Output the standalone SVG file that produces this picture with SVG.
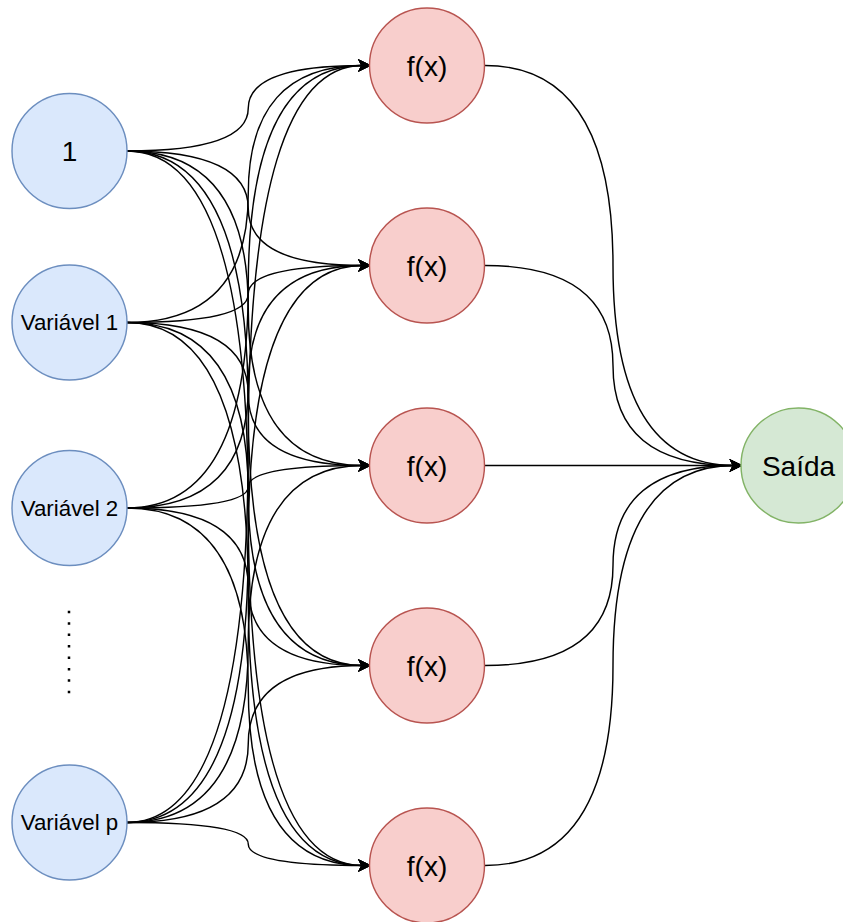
<svg xmlns="http://www.w3.org/2000/svg" width="843" height="922" viewBox="0 0 843 922">
<style>
.in{fill:#dae8fc;stroke:#6c8ebf;stroke-width:1.44}
.fx{fill:#f8cecc;stroke:#b85450;stroke-width:1.44}
.out{fill:#d5e8d4;stroke:#82b366;stroke-width:1.44}
.e{fill:none;stroke:#000;stroke-width:1.44;marker-end:url(#arr)}
text{font-family:"Liberation Sans",Arial,Helvetica,sans-serif;fill:#000;text-anchor:middle}
.big{font-size:28px}
.sm{font-size:22.3px}
</style>
<defs>
<marker id="arr" markerUnits="userSpaceOnUse" markerWidth="14" markerHeight="14" refX="3" refY="0" viewBox="-1 -7 13 14" orient="auto" overflow="visible">
<path d="M10 0 L0 -5 L2.5 0 L0 5 Z" fill="#000" stroke="#000" stroke-width="1.44" stroke-linejoin="miter"/>
</marker>
</defs>
<g id="connectors">
<path class="e" d="M127 151 Q248.25 151 248.25 108.25 Q248.25 65.5 362.5 65.5"/>
<path class="e" d="M127 151 Q248.25 151 248.25 208.25 Q248.25 265.5 362.5 265.5"/>
<path class="e" d="M127 151 Q248.25 151 248.25 308.25 Q248.25 465.5 362.5 465.5"/>
<path class="e" d="M127 151 Q248.25 151 248.25 408.25 Q248.25 665.5 362.5 665.5"/>
<path class="e" d="M127 151 Q248.25 151 248.25 508.25 Q248.25 865.5 362.5 865.5"/>
<path class="e" d="M127 322.5 Q248.25 322.5 248.25 194 Q248.25 65.5 362.5 65.5"/>
<path class="e" d="M127 322.5 Q248.25 322.5 248.25 294 Q248.25 265.5 362.5 265.5"/>
<path class="e" d="M127 322.5 Q248.25 322.5 248.25 394 Q248.25 465.5 362.5 465.5"/>
<path class="e" d="M127 322.5 Q248.25 322.5 248.25 494 Q248.25 665.5 362.5 665.5"/>
<path class="e" d="M127 322.5 Q248.25 322.5 248.25 594 Q248.25 865.5 362.5 865.5"/>
<path class="e" d="M127 508 Q248.25 508 248.25 286.75 Q248.25 65.5 362.5 65.5"/>
<path class="e" d="M127 508 Q248.25 508 248.25 386.75 Q248.25 265.5 362.5 265.5"/>
<path class="e" d="M127 508 Q248.25 508 248.25 486.75 Q248.25 465.5 362.5 465.5"/>
<path class="e" d="M127 508 Q248.25 508 248.25 586.75 Q248.25 665.5 362.5 665.5"/>
<path class="e" d="M127 508 Q248.25 508 248.25 686.75 Q248.25 865.5 362.5 865.5"/>
<path class="e" d="M127 822.5 Q248.25 822.5 248.25 444 Q248.25 65.5 362.5 65.5"/>
<path class="e" d="M127 822.5 Q248.25 822.5 248.25 544 Q248.25 265.5 362.5 265.5"/>
<path class="e" d="M127 822.5 Q248.25 822.5 248.25 644 Q248.25 465.5 362.5 465.5"/>
<path class="e" d="M127 822.5 Q248.25 822.5 248.25 744 Q248.25 665.5 362.5 665.5"/>
<path class="e" d="M127 822.5 Q248.25 822.5 248.25 844 Q248.25 865.5 362.5 865.5"/>
<path class="e" d="M485 65.5 Q613 65.5 613 265.5 Q613 465.5 734 465.5"/>
<path class="e" d="M485 265.5 Q613 265.5 613 365.5 Q613 465.5 734 465.5"/>
<path class="e" d="M485 465.5 L734 465.5"/>
<path class="e" d="M485 665.5 Q613 665.5 613 565.5 Q613 465.5 734 465.5"/>
<path class="e" d="M485 865.5 Q613 865.5 613 665.5 Q613 465.5 734 465.5"/>
</g>
<g id="in-1"><circle class="in" cx="69.5" cy="151" r="57.5"/><text class="big" x="69.5" y="161">1</text></g>
<g id="in-v1"><circle class="in" cx="69.5" cy="322.5" r="57.5"/><text class="sm" x="69.5" y="330.4">Variável 1</text></g>
<g id="in-v2"><circle class="in" cx="69.5" cy="508" r="57.5"/><text class="sm" x="69.5" y="515.9">Variável 2</text></g>
<g id="dots"><line x1="69" y1="610.75" x2="69" y2="694" stroke="#000" stroke-width="2.5" stroke-dasharray="2.5 8.93"/></g>
<g id="in-vp"><circle class="in" cx="69.5" cy="822.5" r="57.5"/><text class="sm" x="69.5" y="830.4">Variável p</text></g>
<g id="fx-1"><circle class="fx" cx="427" cy="65.5" r="57.5"/><text class="big" x="427" y="75.5">f(x)</text></g>
<g id="fx-2"><circle class="fx" cx="427" cy="265.5" r="57.5"/><text class="big" x="427" y="275.5">f(x)</text></g>
<g id="fx-3"><circle class="fx" cx="427" cy="465.5" r="57.5"/><text class="big" x="427" y="475.5">f(x)</text></g>
<g id="fx-4"><circle class="fx" cx="427" cy="665.5" r="57.5"/><text class="big" x="427" y="675.5">f(x)</text></g>
<g id="fx-5"><circle class="fx" cx="427" cy="865.5" r="57.5"/><text class="big" x="427" y="875.5">f(x)</text></g>
<g id="saida"><circle class="out" cx="798.5" cy="465.5" r="57.5"/><text class="big" x="798.5" y="475.5">Saída</text></g>
</svg>
